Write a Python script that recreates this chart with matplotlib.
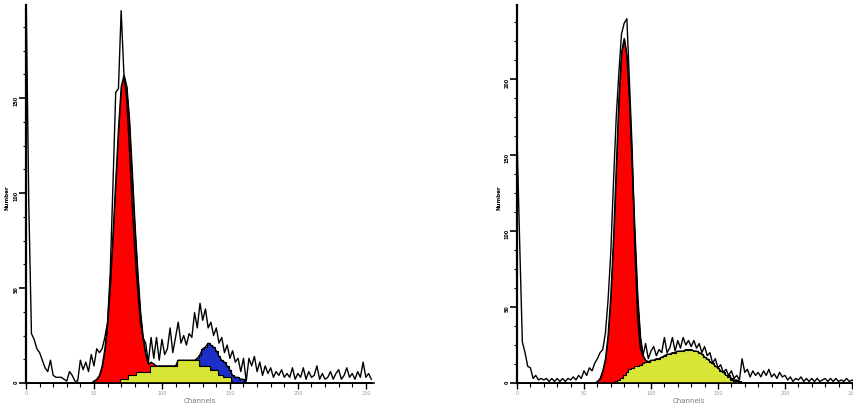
import numpy as np
import matplotlib
matplotlib.use('Agg')
import matplotlib.pyplot as plt
from matplotlib.ticker import MultipleLocator

# channels (every 2nd channel, 0..254)
channels = np.arange(0, 256, 2)

# left panel: measured histogram
left_hist = [210, 96, 26, 23, 18, 16, 12, 8, 6, 12,
             4, 3, 3, 3, 2, 1, 6, 4, 1, 1,
             12, 7, 11, 6, 15, 9, 18, 16, 18, 24,
             32, 59, 105, 153, 155, 196, 163, 150, 124, 95,
             70, 50, 33, 24, 21, 11, 24, 13, 24, 12,
             23, 15, 18, 29, 16, 24, 32, 21, 25, 20,
             26, 24, 37, 29, 42, 33, 39, 29, 32, 25,
             29, 21, 24, 16, 20, 13, 17, 11, 13, 6,
             13, 1, 13, 9, 14, 6, 11, 4, 9, 5,
             8, 3, 6, 4, 7, 3, 5, 3, 8, 2,
             5, 3, 8, 2, 6, 3, 4, 9, 2, 5,
             2, 3, 6, 2, 5, 7, 2, 4, 8, 3,
             5, 2, 6, 3, 11, 3, 5, 2]
# left panel: model components (start channel, values every 2 channels)
left_g1_start = 50
left_g1 = [1, 2, 4, 9, 18, 32, 53, 79, 107, 134, 154, 160, 154, 134, 107, 79,
           53, 32, 18, 9, 4, 2, 1]
left_s_start = 68
left_s = [0, 2, 2, 2, 4, 4, 4, 6, 6, 6, 6, 6, 9, 9, 9, 9, 9, 9, 9, 9, 9, 9,
          12, 12, 12, 12, 12, 12, 12, 12, 9, 9, 9, 9, 7, 7, 7, 4, 4, 3, 3, 3, 0]
left_g2_start = 126
left_g2 = [1, 6, 9, 10, 12, 13, 12, 10, 10, 8, 8, 6, 4, 4, 3, 3, 2, 2, 0]

# right panel: measured histogram
right_hist = [162, 92, 27, 20, 11, 10, 3, 5, 2, 3,
              2, 3, 1, 3, 1, 3, 1, 3, 1, 3,
              2, 4, 2, 5, 3, 8, 5, 10, 8, 13,
              16, 20, 22, 33, 55, 86, 132, 174, 204, 230,
              237, 240, 197, 153, 88, 43, 23, 18, 26, 16,
              21, 24, 18, 22, 20, 30, 20, 23, 30, 21,
              28, 23, 30, 25, 28, 24, 28, 23, 26, 20,
              24, 18, 20, 13, 16, 10, 12, 7, 9, 5,
              8, 3, 5, 2, 16, 7, 9, 4, 8, 5,
              7, 4, 8, 5, 9, 4, 6, 3, 7, 4,
              5, 2, 4, 1, 3, 2, 4, 1, 3, 1,
              3, 1, 3, 1, 2, 3, 1, 3, 1, 3,
              1, 2, 1, 3, 1, 2, 1, 2]
right_g1_start = 60
right_g1 = [1, 3, 8, 16, 32, 58, 95, 140, 185, 215, 222, 208, 175, 130, 85,
            45, 18, 5, 1]
right_s_start = 72
right_s = [0, 1, 2, 3, 5, 7, 9, 10, 11, 11, 12, 13, 14, 14, 15, 15, 16, 16,
           17, 18, 19, 19, 20, 20, 21, 21, 21, 22, 22, 22, 21, 21, 20, 19, 17,
           16, 14, 13, 11, 10, 8, 7, 5, 4, 2, 1, 1, 0]
right_g2_start = 156
right_g2 = [0, 1, 1, 1, 1, 1, 0]

left_yticks = [0, 50, 100, 150]
right_yticks = [0, 50, 100, 150, 200]
xticks = [0, 50, 100, 150, 200, 250]


def place(start, vals):
    arr = np.zeros(len(channels))
    i = start // 2
    arr[i:i + len(vals)] = vals
    return arr


def panel(rect, hist, g1, s, g2, ymax, yticks, labx):
    ax = fig.add_axes(rect)
    g1 = place(*g1)
    s = place(*s)
    g2 = place(*g2)
    ax.fill_between(channels, 0, s + g2, color='#1c2fc8', ec='black', lw=0.8, step='mid')
    ax.fill_between(channels, 0, g1 + s, color='#ff0000', ec='black', lw=0.8)
    ax.fill_between(channels, 0, s, color='#d9e535', ec='black', lw=0.8, step='mid')
    ax.plot(channels, g1 + s + g2, color='black', lw=0.9)
    ax.plot(channels, hist, color='black', lw=1.0)
    ax.set_xlim(0, 256)
    ax.set_ylim(0, ymax)
    for sp in ['top', 'right']:
        ax.spines[sp].set_visible(False)
    ax.spines['left'].set_linewidth(1.6)
    ax.spines['bottom'].set_linewidth(1.2)
    ax.set_xticks(xticks)
    ax.xaxis.set_minor_locator(MultipleLocator(10))
    ax.set_yticks(yticks)
    ax.yaxis.set_minor_locator(MultipleLocator(12.5))
    ax.tick_params(axis='x', which='major', length=4, width=1, labelsize=3.5,
                   labelcolor='#999999', pad=2)
    ax.tick_params(axis='x', which='minor', length=3, width=0.8)
    ax.tick_params(axis='y', which='major', length=5, width=1.2, labelsize=3.5,
                   labelrotation=90, pad=0.5)
    ax.tick_params(axis='y', which='minor', length=2, width=0.8)
    for t in ax.get_yticklabels():
        t.set_fontweight('bold')
    ax.set_xlabel('Channels', fontsize=5, color='#777777', labelpad=1)
    ax.set_ylabel('Number', fontsize=4, fontweight='bold')
    ax.yaxis.set_label_coords(labx, 0.49)
    return ax


fig = plt.figure(figsize=(8.54, 4.04), dpi=100)
panel([26 / 854, 21 / 404, 348 / 854, 378 / 404], left_hist,
      (left_g1_start, left_g1), (left_s_start, left_s), (left_g2_start, left_g2),
      199, left_yticks, -0.047)
panel([517 / 854, 21 / 404, 343 / 854, 378 / 404], right_hist,
      (right_g1_start, right_g1), (right_s_start, right_s), (right_g2_start, right_g2),
      249, right_yticks, -0.045)
fig.savefig('out.png', dpi=100)
